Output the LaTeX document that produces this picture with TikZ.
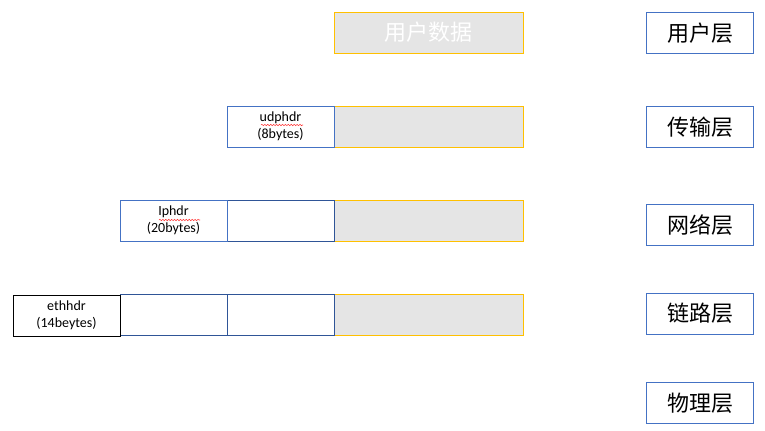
\documentclass[tikz,border=0pt]{standalone}
\usepackage{fontspec}
\setmainfont{Carlito}
\newfontfamily\cjk{Noto Sans CJK SC}
\usetikzlibrary{decorations.pathmorphing}

\definecolor{layerblue}{HTML}{4472C4}
\definecolor{darkblue}{HTML}{2F5597}
\definecolor{datayellow}{HTML}{FFC000}
\definecolor{datagray}{HTML}{E5E5E5}

\tikzset{
  cell/.style={rectangle, inner sep=0pt, minimum width=80.25pt, minimum height=30.75pt, line width=0.75pt},
  payload/.style={cell, draw=datayellow, fill=datagray, minimum width=141.75pt},
  hdr/.style={cell, draw=layerblue, fill=white, align=center, font=\fontsize{10.5}{12.5}\selectfont},
  oldhdr/.style={cell, draw=darkblue, fill=white},
  layer/.style={cell, draw=layerblue, font=\cjk\fontsize{16.5}{18}\selectfont},
  squiggle/.style={red!80, line width=0.4pt, decorate, decoration={snake, amplitude=0.5pt, segment length=2.2pt}}
}

\begin{document}
\begin{tikzpicture}[x=0.75pt, y=-0.75pt]
\useasboundingbox (0,0) rectangle (765,430);

% user data
\node[payload, font=\cjk\fontsize{16.5}{18}\selectfont, text=white] (D0) at (428.5,32.5) {用户数据};

% transport
\node[payload] (D1) at (428.5,126.5) {};
\node[hdr] (U1) at (280.5,126.5) {udphdr\\(8bytes)};

% network
\node[payload] (D2) at (428.5,220.5) {};
\node[oldhdr] (U2) at (280.5,220.5) {};
\node[hdr] (I2) at (173.5,220.5) {Iphdr\\(20bytes)};

% link
\node[payload] (D3) at (428.5,315) {};
\node[oldhdr] (U3) at (280.5,315) {};
\node[oldhdr] (I3) at (173.5,315) {};
\node[hdr, draw=black] (E3) at (66.5,315.5) {ethhdr\\(14beytes)};

% spell check marks
\draw[squiggle] (261,125) -- (303,125);
\draw[squiggle] (159,220) -- (200,220);

% layer names
\node[layer] (L1) at (700,33) {用户层};
\node[layer] (L2) at (700,127) {传输层};
\node[layer] (L3) at (700,225) {网络层};
\node[layer] (L4) at (700,313.5) {链路层};
\node[layer] (L5) at (700,403) {物理层};
\end{tikzpicture}
\end{document}
